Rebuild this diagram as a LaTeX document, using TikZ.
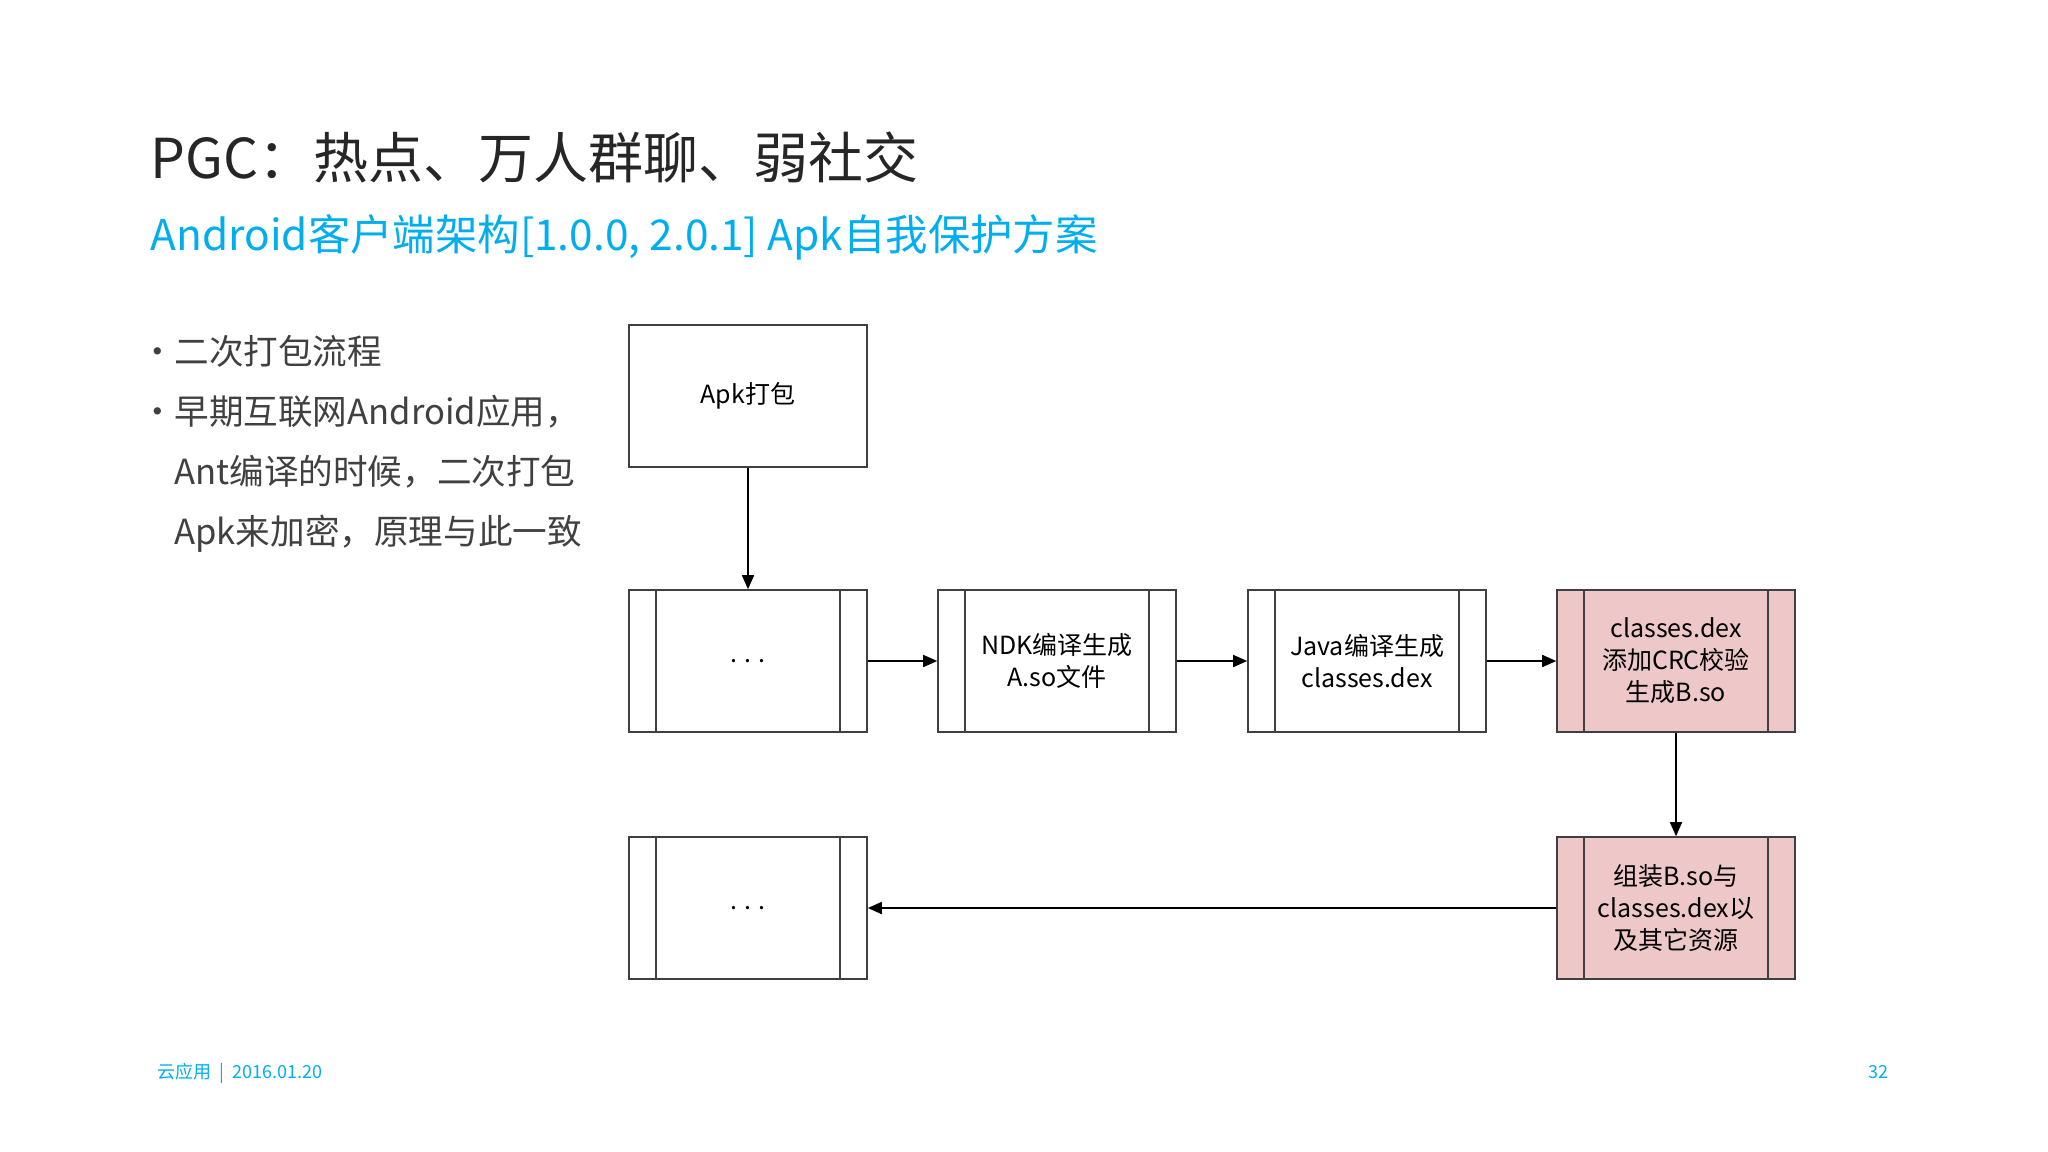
\documentclass[tikz,border=0pt]{standalone}
\usepackage{fontspec}
\setmainfont{Noto Sans CJK SC}
\usetikzlibrary{positioning,arrows.meta}
\definecolor{titlecyan}{RGB}{0,174,239}
\definecolor{boxpink}{RGB}{238,200,200}
\begin{document}
\begin{tikzpicture}[x=0.5pt,y=-0.5pt,thick]
\tikzstyle{stage}=[draw=black!75, fill=white, line width=0.8pt, minimum width=119pt, minimum height=71pt, inner sep=0pt, align=center, font=\fontsize{12.5}{16}\selectfont]
\tikzstyle{hot}=[stage, fill=boxpink]
\tikzstyle{link}=[line width=0.8pt, -{Triangle[length=7pt,width=6pt]}]
\useasboundingbox (0,0) rectangle (2048,1151);

\node[anchor=base west, font=\fontsize{27.5}{30}\selectfont, text=black!85] (title) at (143,178) {PGC：热点、万人群聊、弱社交};
\node[anchor=base west, font=\fontsize{21.2}{24}\selectfont, text=titlecyan] (sub) at (143,250) {Android客户端架构[1.0.0, 2.0.1] Apk自我保护方案};

\node[anchor=north west, font=\fontsize{17.3}{30}\selectfont, text=black!75, align=left, inner sep=0pt] (txt) at (140,334)
  {•\hspace{-0.5pt}二次打包流程\\ •\hspace{-0.5pt}早期互联网Android应用，\\ \phantom{•}\hspace{-0.5pt}Ant编译的时候，二次打包\\ \phantom{•}\hspace{-0.5pt}Apk来加密，原理与此一致};

\node[stage] (pack) at (748,396) {Apk打包};
\node[stage] (d1) at (748,661) {. . .};
\node[stage] (ndk) at (1057,661) {NDK编译生成\\A.so文件};
\node[stage] (java) at (1367,661) {Java编译生成\\classes.dex};
\node[hot] (crc) at (1676,661) {classes.dex\\添加CRC校验\\生成B.so};
\node[hot] (build) at (1676,908) {组装B.so与\\classes.dex以\\及其它资源};
\node[stage] (d2) at (748,908) {. . .};

\foreach \n in {d1,ndk,java,crc,build,d2}{
  \draw[black!75, line width=0.8pt] ([xshift=14pt]\n.north west) -- ([xshift=14pt]\n.south west);
  \draw[black!75, line width=0.8pt] ([xshift=-14pt]\n.north east) -- ([xshift=-14pt]\n.south east);
}

\draw[link] (pack) -- (d1);
\draw[link] (d1) -- (ndk);
\draw[link] (ndk) -- (java);
\draw[link] (java) -- (crc);
\draw[link] (crc) -- (build);
\draw[link] (build) -- (d2);

\node[anchor=base west, font=\fontsize{9}{10}\selectfont, text=titlecyan] (foot) at (150,1078) {云应用 ~|~ 2016.01.20};
\node[anchor=base east, font=\fontsize{9}{10}\selectfont, text=titlecyan] (page) at (1896,1078) {32};
\end{tikzpicture}
\end{document}
